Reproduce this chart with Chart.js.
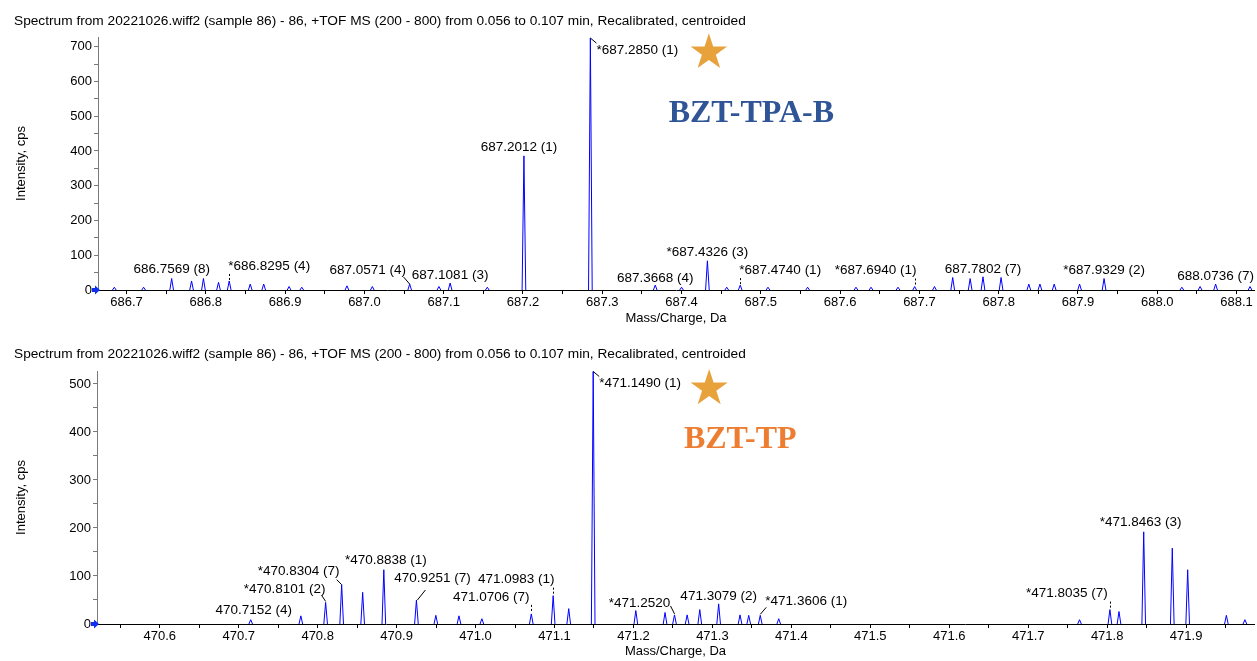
<!DOCTYPE html>
<html>
<head>
<meta charset="utf-8">
<script src="https://cdn.jsdelivr.net/npm/chart.js@4.4.1/dist/chart.umd.min.js"></script>
<style>
  html, body { margin: 0; padding: 0; background: #fff; width: 1257px; height: 661px; overflow: hidden; }
  canvas { position: absolute; left: 0; display: block; }
  #c1 { top: 0; }
  #c2 { top: 331px; }
</style>
</head>
<body>
<canvas id="c1" width="1257" height="330"></canvas>
<canvas id="c2" width="1257" height="330"></canvas>
<script>
const TITLE = 'Spectrum from 20221026.wiff2 (sample 86) - 86, +TOF MS (200 - 800) from 0.056 to 0.107 min, Recalibrated, centroided';
const X_TITLE = 'Mass/Charge, Da';
const Y_TITLE = 'Intensity, cps';

// ---- Top spectrum (BZT-TPA-B) ----
const topMz = [686.6846, 686.7215, 686.7569, 686.782, 686.797, 686.816, 686.8295, 686.856, 686.873, 686.905,
  686.921, 686.978, 687.010, 687.0571, 687.094, 687.1081, 687.155, 687.2012, 687.2850, 687.3668,
  687.400, 687.4326, 687.457, 687.4740, 687.509, 687.559, 687.620, 687.639, 687.673, 687.6940,
  687.719, 687.742, 687.764, 687.7802, 687.803, 687.838, 687.852, 687.870, 687.902, 687.9329,
  688.031, 688.054, 688.0736, 688.117];
const topIntensity = [8, 8, 33, 26, 33, 22, 26, 17, 17, 10,
  8, 12, 10, 17, 10, 20, 8, 386, 725, 14,
  8, 84, 8, 14, 8, 8, 8, 8, 8, 10,
  10, 36, 33, 38, 36, 17, 17, 17, 17, 33,
  8, 10, 17, 10];
const topLabelMz = [686.7569, 686.8295, 687.0571, 687.1081, 687.2012, 687.2850, 687.3668, 687.4326, 687.4740, 687.6940, 687.7802, 687.9329, 688.0736];
const topLabelText = ['686.7569 (8)', '*686.8295 (4)', '687.0571 (4)', '687.1081 (3)', '687.2012 (1)', '*687.2850 (1)', '687.3668 (4)', '*687.4326 (3)', '*687.4740 (1)', '*687.6940 (1)', '687.7802 (7)', '*687.9329 (2)', '688.0736 (7)'];
const topXTicks = [686.7, 686.8, 686.9, 687.0, 687.1, 687.2, 687.3, 687.4, 687.5, 687.6, 687.7, 687.8, 687.9, 688.0, 688.1];
const topYTicks = [0, 100, 200, 300, 400, 500, 600, 700];
const topCompound = 'BZT-TPA-B';

// ---- Bottom spectrum (BZT-TP) ----
const botMz = [470.7152, 470.7787, 470.8101, 470.8304, 470.857, 470.8838, 470.9251, 470.9497, 470.979, 471.008,
  471.0706, 471.0983, 471.118, 471.1490, 471.203, 471.240, 471.2520, 471.268, 471.284, 471.3079,
  471.335, 471.346, 471.3606, 471.384, 471.765, 471.8035, 471.815, 471.8463, 471.8825, 471.902,
  471.951, 471.9745];
const botIntensity = [9, 17, 45, 82, 66, 113, 50, 18, 17, 11,
  21, 59, 32, 526, 28, 24, 19, 19, 30, 42,
  19, 18, 18, 11, 9, 30, 26, 192, 158, 113,
  18, 9];
const botLabelMz = [470.7152, 470.8101, 470.8304, 470.8838, 470.9251, 471.0706, 471.0983, 471.1490, 471.2520, 471.3079, 471.3606, 471.8035, 471.8463];
const botLabelText = ['470.7152 (4)', '*470.8101 (2)', '*470.8304 (7)', '*470.8838 (1)', '470.9251 (7)', '471.0706 (7)', '471.0983 (1)', '*471.1490 (1)', '*471.2520', '471.3079 (2)', '*471.3606 (1)', '*471.8035 (7)', '*471.8463 (3)'];
const botXTicks = [470.6, 470.7, 470.8, 470.9, 471.0, 471.1, 471.2, 471.3, 471.4, 471.5, 471.6, 471.7, 471.8, 471.9];
const botYTicks = [0, 100, 200, 300, 400, 500];
const botCompound = 'BZT-TP';

// ---- label placement (style: pixel offsets from the peak apex) ----
const topLabelLayout = [
  {dx: 0, dy: -9},
  {dx: 40, dy: -15, lead: 'dash'},
  {dx: -42, dy: -14, lead: 'line', a: [-6, -7], b: [0, 0]},
  {dx: 0, dy: -8},
  {dx: -5, dy: -9},
  {dx: 47, dy: 12, lead: 'line', a: [0, 0], b: [6, 5]},
  {dx: 0, dy: -7},
  {dx: 0, dy: -9},
  {dx: 40, dy: -15, lead: 'dash'},
  {dx: -39, dy: -16, lead: 'dash'},
  {dx: 0, dy: -8},
  {dx: 0, dy: -8.5},
  {dx: 0, dy: -8}
];
const botLabelLayout = [
  {dx: 3, dy: -9},
  {dx: -41, dy: -13, lead: 'line', a: [-4, -7], b: [0, -1]},
  {dx: -43, dy: -13.5, lead: 'line', a: [-5, -5], b: [0, 0]},
  {dx: 2, dy: -9},
  {dx: 16, dy: -22, lead: 'line', a: [9, -10], b: [1, 0]},
  {dx: -40, dy: -17, lead: 'dash'},
  {dx: -37, dy: -16, lead: 'dash'},
  {dx: 47, dy: 12, lead: 'line', a: [0, 0], b: [6, 5]},
  {dx: -35, dy: -12, lead: 'line', a: [-4, -9], b: [0, -1]},
  {dx: 0, dy: -8},
  {dx: 46, dy: -14, lead: 'line', a: [6, -8], b: [0, -1]},
  {dx: -43, dy: -16, lead: 'dash'},
  {dx: -3, dy: -10}
];

const FONT = "'Liberation Sans', Arial, sans-serif";
Chart.defaults.font.family = FONT;
Chart.defaults.color = '#000';

const HW = 0.0023; // half-width of drawn centroid spike (style)

function spikes(mz, inten) {
  const pts = [];
  mz.forEach((m, i) => {
    pts.push({x: m - HW, y: 0});
    pts.push({x: m, y: inten[i]});
    pts.push({x: m + HW, y: 0});
    pts.push({x: m + HW, y: null});
  });
  return pts;
}

function drawStar(ctx, cx, cy, R, color) {
  const r = R * 0.382;
  ctx.beginPath();
  for (let k = 0; k < 10; k++) {
    const ang = -Math.PI / 2 + k * Math.PI / 5;
    const rad = k % 2 === 0 ? R : r;
    const px = cx + rad * Math.cos(ang), py = cy + rad * Math.sin(ang);
    if (k === 0) ctx.moveTo(px, py); else ctx.lineTo(px, py);
  }
  ctx.closePath();
  ctx.fillStyle = color;
  ctx.fill();
}

const annotPlugin = {
  id: 'annot',
  afterDraw(chart, args, o) {
    const {ctx} = chart;
    const xs = chart.scales.x, ys = chart.scales.y;
    ctx.save();
    // peak labels
    ctx.font = '13.5px ' + FONT;
    ctx.textAlign = 'center';
    ctx.textBaseline = 'middle';
    o.labelMz.forEach((m, i) => {
      const idx = o.mz.findIndex(v => Math.abs(v - m) < 1e-6);
      const px = xs.getPixelForValue(m);
      const top = ys.getPixelForValue(o.inten[idx]);
      const L = o.layout[i];
      ctx.fillStyle = '#000';
      ctx.fillText(o.text[i], px + L.dx, top + L.dy);
      ctx.strokeStyle = '#000';
      ctx.lineWidth = 1;
      if (L.lead === 'dash') {
        ctx.setLineDash([2, 2]);
        ctx.beginPath();
        ctx.moveTo(Math.round(px) + 0.5, top + L.dy + 8);
        ctx.lineTo(Math.round(px) + 0.5, top - 1);
        ctx.stroke();
        ctx.setLineDash([]);
      } else if (L.lead === 'line') {
        ctx.beginPath();
        ctx.moveTo(px + L.a[0], top + L.a[1]);
        ctx.lineTo(px + L.b[0], top + L.b[1]);
        ctx.stroke();
      }
    });
    // base peak star + compound name
    const bi = o.inten.indexOf(Math.max(...o.inten));
    const bx = xs.getPixelForValue(o.mz[bi]);
    const by = ys.getPixelForValue(o.inten[bi]);
    drawStar(ctx, bx + o.star[0], by + o.star[1], o.star[2], '#E8A23C');
    ctx.font = 'bold 32px "Liberation Serif", "Times New Roman", serif';
    ctx.textAlign = 'center';
    ctx.textBaseline = 'alphabetic';
    ctx.fillStyle = o.nameColor;
    ctx.fillText(o.name, bx + o.namePos[0], by + o.namePos[1]);
    // blue zero marker on the y axis
    const y0 = ys.getPixelForValue(0);
    const x0 = xs.left;
    ctx.fillStyle = '#1030F0';
    ctx.beginPath();
    ctx.moveTo(x0 - 6, y0 - 2);
    ctx.lineTo(x0 - 3, y0 - 2);
    ctx.lineTo(x0 - 3, y0 - 4.5);
    ctx.lineTo(x0 + 2, y0);
    ctx.lineTo(x0 - 3, y0 + 4.5);
    ctx.lineTo(x0 - 3, y0 + 2);
    ctx.lineTo(x0 - 6, y0 + 2);
    ctx.closePath();
    ctx.fill();
    ctx.restore();
  }
};

function majorMinor(majors, step) {
  const out = [];
  majors.forEach(v => { out.push(v); out.push(v + step); });
  out.unshift(majors[0] - step);
  return out;
}

function makeChart(id, c) {
  const isMajor = (arr, v) => arr.some(t => Math.abs(t - v) < 1e-7);
  return new Chart(document.getElementById(id), {
    type: 'line',
    data: {
      datasets: [{
        data: spikes(c.mz, c.inten),
        borderColor: '#0000FF',
        borderWidth: 1,
        pointRadius: 0,
        tension: 0,
        spanGaps: false,
        clip: false
      }]
    },
    options: {
      responsive: false,
      devicePixelRatio: 1,
      animation: false,
      events: [],
      layout: {padding: {left: 14, right: 3, top: 0, bottom: 0}},
      plugins: {
        legend: {display: false},
        tooltip: {enabled: false},
        title: {
          display: true, text: TITLE, align: 'start', color: '#000',
          font: {family: FONT, size: 13.7, weight: 'normal'},
          padding: c.titlePad
        },
        annot: {
          mz: c.mz, inten: c.inten, labelMz: c.labelMz, text: c.labelText, layout: c.layout,
          star: c.star, name: c.name, nameColor: c.nameColor, namePos: c.namePos
        }
      },
      scales: {
        x: {
          type: 'linear', min: c.xMin, max: c.xMax,
          afterBuildTicks: s => {
            s.ticks = majorMinor(c.xTicks, 0.05).filter(v => v >= c.xMin && v <= c.xMax).map(v => ({value: v}));
          },
          afterFit: s => { s.height = c.xAxisH; },
          ticks: {
            autoSkip: false, maxRotation: 0, minRotation: 0, padding: 1,
            font: {size: 13}, color: '#000',
            callback: v => isMajor(c.xTicks, v) ? v.toFixed(1) : ''
          },
          grid: {drawOnChartArea: false, drawTicks: true, tickLength: 4, color: '#000'},
          border: {display: true, color: '#000', width: 1},
          title: {display: true, text: X_TITLE, color: '#000', font: {size: 13}, padding: {top: 0, bottom: c.xTitlePadB}}
        },
        y: {
          type: 'linear', min: 0, max: c.yMax,
          afterBuildTicks: s => {
            s.ticks = majorMinor(c.yTicks, 50).filter(v => v >= 0 && v <= c.yMax).map(v => ({value: v}));
          },
          afterFit: s => { s.width = c.yAxisW; },
          ticks: {
            autoSkip: false, padding: 2, font: {size: 13}, color: '#000',
            callback: v => isMajor(c.yTicks, v) ? String(v) : ''
          },
          grid: {drawOnChartArea: false, drawTicks: true, tickLength: 4, color: '#7a7a7a'},
          border: {display: true, color: '#7a7a7a', width: 1},
          title: {display: true, text: Y_TITLE, color: '#000', font: {size: 13}, padding: 0}
        }
      }
    },
    plugins: [annotPlugin]
  });
}

makeChart('c1', {
  mz: topMz, inten: topIntensity, labelMz: topLabelMz, labelText: topLabelText, layout: topLabelLayout,
  xTicks: topXTicks, yTicks: topYTicks, xMin: 686.664, xMax: 688.122, yMax: 728,
  titlePad: {top: 12.6, bottom: 7.96}, xAxisH: 40, xTitlePadB: 4, yAxisW: 84,
  star: [118.5, 14.5, 19.2], name: topCompound, nameColor: '#2F5597', namePos: [161, 83.7]
});

makeChart('c2', {
  mz: botMz, inten: botIntensity, labelMz: botLabelMz, labelText: botLabelText, layout: botLabelLayout,
  xTicks: botXTicks, yTicks: botYTicks, xMin: 470.5205, xMax: 471.986, yMax: 527,
  titlePad: {top: 14.78, bottom: 8.78}, xAxisH: 37, xTitlePadB: 2, yAxisW: 83,
  star: [116, 17, 19.6], name: botCompound, nameColor: '#ED7D31', namePos: [147, 76.3]
});
</script>
</body>
</html>
